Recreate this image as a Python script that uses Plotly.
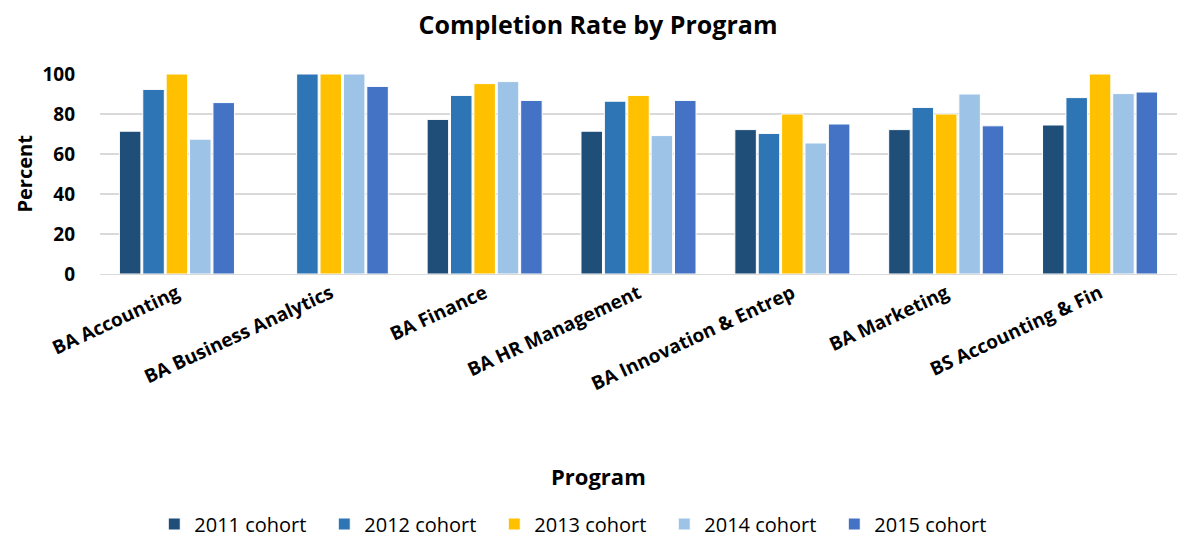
import plotly.graph_objects as go

programs = ["BA Accounting", "BA Business Analytics", "BA Finance", "BA HR Management",
            "BA Innovation & Entrep", "BA Marketing", "BS Accounting & Fin"]
cohorts = ["2011 cohort", "2012 cohort", "2013 cohort", "2014 cohort", "2015 cohort"]

c2011 = [71.4, None, 77.3, 71.4, 72.2, 72.2, 74.5]
c2012 = [92.3, 100, 89.3, 86.4, 70.3, 83.3, 88.2]
c2013 = [100, 100, 95.2, 89.3, 80.0, 80.0, 100]
c2014 = [67.4, 100, 96.2, 69.2, 65.5, 90.0, 90.2]
c2015 = [85.7, 93.8, 86.8, 86.8, 75.0, 74.1, 91.0]

yticks = [0, 20, 40, 60, 80, 100]

colors = ["#1F4E79", "#2E75B6", "#FFC000", "#9DC3E6", "#4472C4"]
series = [c2011, c2012, c2013, c2014, c2015]

FONT = "Open Sans, Calibri, Arial, sans-serif"

fig = go.Figure()
for name, vals, col in zip(cohorts, series, colors):
    fig.add_trace(go.Bar(
        x=programs, y=vals, name=name,
        marker=dict(color=col, line=dict(color="white", width=1)),
    ))

# The page body has an 8px margin, so the figure is 8px smaller on each axis
W, H = 1180, 530
fig.update_layout(
    width=W, height=H,
    paper_bgcolor="white", plot_bgcolor="white",
    barmode="group", bargap=0.24, bargroupgap=0.08,
    margin=dict(l=92, r=11, t=66, b=264, autoexpand=False),
    font=dict(family=FONT, color="#000000"),
    title=dict(text="<b>Completion Rate by Program</b>", x=0.5, xanchor="center",
               y=1 - 17 / H, yanchor="middle", font=dict(size=25, family=FONT, color="#000")),
    legend=dict(orientation="h", x=0.445, xanchor="center", y=-1.25, yanchor="middle",
                font=dict(size=20, family=FONT, color="#000"), traceorder="normal",
                itemwidth=30, entrywidth=125, entrywidthmode="pixels"),
    showlegend=True,
)
fig.update_xaxes(
    tickangle=-25, tickfont=dict(size=19, family=FONT, color="#000"),
    showgrid=False, showline=True, linecolor="#D9D9D9", linewidth=1,
    ticks="", automargin=False,
    tickvals=programs, ticktext=["<b>%s</b>" % p for p in programs],
)
fig.update_yaxes(
    range=[0, 100], showgrid=True, gridcolor="#D9D9D9", gridwidth=2,
    zeroline=False, tickfont=dict(size=19, family=FONT, color="#000"),
    ticks="", ticklabelstandoff=24, automargin=False,
    tickvals=yticks, ticktext=["<b>%d</b>" % v for v in yticks],
)

fig.add_annotation(text="<b>Program</b>", xref="paper", yref="paper", x=0.463, y=-1.01,
                   showarrow=False, font=dict(size=22, family=FONT, color="#000"),
                   xanchor="center", yanchor="middle")
fig.add_annotation(text="<b>Percent</b>", xref="paper", yref="paper", x=-0.071, y=0.5,
                   textangle=-90, showarrow=False, font=dict(size=20, family=FONT, color="#000"),
                   xanchor="center", yanchor="middle")

fig.write_html("out.html")
